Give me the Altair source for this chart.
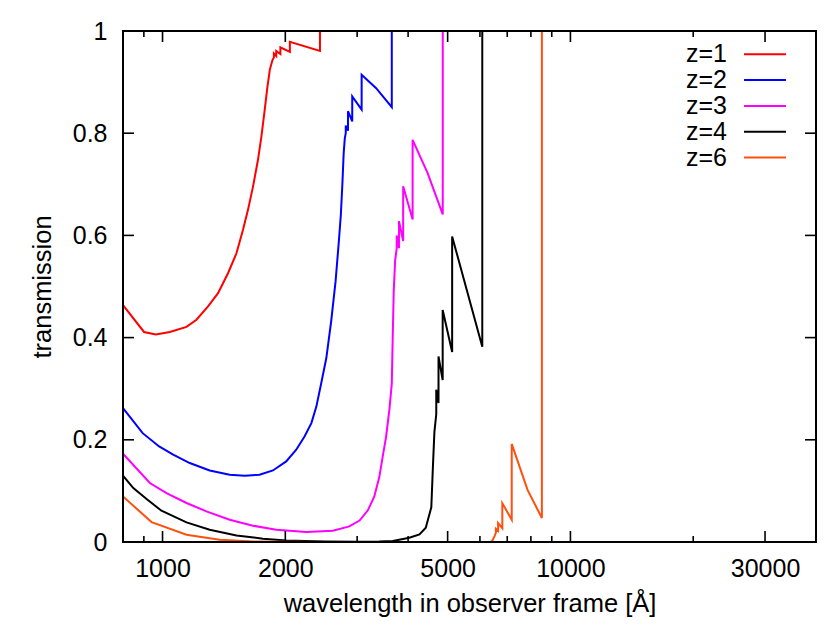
import altair as alt
import pandas as pd

# ---- data (wavelength in Angstrom, transmission) ----
z1_wl = [800, 901, 963, 1042, 1145, 1211, 1293, 1368, 1447, 1518, 1575, 1620, 1666, 1714, 1747, 1780,
         1808, 1824, 1832, 1848, 1860, 1875, 1875, 1900, 1900, 1945, 1945, 2052, 2052, 2432, 2432, 40000]
z1_t = [0.4635, 0.411, 0.406, 0.411, 0.421, 0.435, 0.461, 0.487, 0.526, 0.565, 0.611, 0.650, 0.695, 0.748,
        0.793, 0.845, 0.891, 0.912, 0.924, 0.935, 0.943, 0.948, 0.956, 0.951, 0.961, 0.955, 0.968, 0.959,
        0.979, 0.961, 1.0, 1.0]

z2_wl = [800, 894, 981, 1062, 1166, 1305, 1461, 1590, 1729, 1865, 2010, 2127, 2229, 2317, 2383, 2450,
         2521, 2591, 2656, 2706, 2736, 2760, 2780, 2798, 2813, 2813, 2849, 2849, 2918, 2918, 3077, 3077,
         3340, 3648, 3648, 40000]
z2_t = [0.262, 0.213, 0.187, 0.171, 0.1545, 0.140, 0.1316, 0.1297, 0.1316, 0.140, 0.1577, 0.1805, 0.2066,
        0.2327, 0.265, 0.311, 0.36, 0.432, 0.510, 0.589, 0.64, 0.70, 0.76, 0.79, 0.80, 0.815, 0.805, 0.843,
        0.823, 0.872, 0.846, 0.9145, 0.888, 0.851, 1.0, 1.0]

z3_wl = [800, 931, 1023, 1145, 1281, 1461, 1666, 1900, 2251, 2615, 2870, 3041, 3187, 3305, 3400, 3464,
         3531, 3600, 3648, 3667, 3688, 3717, 3751, 3751, 3799, 3799, 3890, 3890, 4103, 4103, 4466, 4864,
         4864, 40000]
z3_t = [0.1727, 0.1154, 0.0958, 0.0763, 0.060, 0.0436, 0.0319, 0.024, 0.0196, 0.0221, 0.0305, 0.042, 0.062,
        0.089, 0.127, 0.166, 0.205, 0.26, 0.31, 0.40, 0.49, 0.55, 0.575, 0.60, 0.575, 0.628, 0.589, 0.696,
        0.631, 0.787, 0.722, 0.641, 1.0, 1.0]

z4_wl = [800, 848, 914, 994, 1145, 1305, 1518, 1763, 2010, 2500, 3000, 3400, 3667, 4028, 4265, 4420,
         4560, 4600, 4640, 4689, 4689, 4749, 4749, 4862, 4862, 5129, 5129, 6080, 6080, 40000]
z4_t = [0.1297, 0.1056, 0.084, 0.0612, 0.0383, 0.024, 0.0129, 0.0065, 0.003, 0.001, 0.0005, 0.001, 0.002,
        0.0084, 0.015, 0.028, 0.068, 0.145, 0.215, 0.25, 0.298, 0.272, 0.363, 0.317, 0.454, 0.372, 0.598,
        0.382, 1.0, 1.0]

z6_wl = [800, 940, 1145, 1381, 1666, 2500, 6384, 6450, 6520, 6565, 6565, 6648, 6648, 6808, 6808, 7180,
         7180, 7850, 8512, 8512, 40000]
z6_t = [0.089, 0.039, 0.0143, 0.0045, 0.001, 0.0, 0.0, 0.004, 0.012, 0.018, 0.026, 0.022, 0.037, 0.027,
        0.076, 0.0436, 0.192, 0.102, 0.047, 1.0, 1.0]

series_names = ["z=1", "z=2", "z=3", "z=4", "z=6"]
series_colors = ["#ff0000", "#0000ff", "#ff00ff", "#000000", "#ff5010"]

x_major = [1000, 2000, 5000, 10000, 30000]
x_minor = [900, 3000, 4000, 6000, 7000, 8000, 9000, 20000]
y_ticks = [0, 0.2, 0.4, 0.6, 0.8, 1]

# ---- build tables ----
rows = []
for name, wl, t in zip(series_names, [z1_wl, z2_wl, z3_wl, z4_wl, z6_wl], [z1_t, z2_t, z3_t, z4_t, z6_t]):
    for i, (w, v) in enumerate(zip(wl, t)):
        rows.append({"wl": w, "t": v, "z": name, "idx": i})
df = pd.DataFrame(rows)
leg_df = pd.DataFrame({"z": series_names, "row": list(range(len(series_names)))})

W, H = 693, 511
FONT = "Liberation Sans"
FS = 25

xscale = alt.Scale(type="log", domain=[800, 40000], nice=False)
yscale = alt.Scale(domain=[0, 1], nice=False, zero=False)
cscale = alt.Scale(domain=series_names, range=series_colors)

lines = alt.Chart(df).mark_line(strokeWidth=2, clip=True).encode(
    x=alt.X("wl:Q", scale=xscale, axis=alt.Axis(
        values=x_major, format="d", domain=False, ticks=False, grid=False,
        labelFontSize=FS, labelFont=FONT, labelColor="black", labelPadding=34,
        labelBaseline="alphabetic", labelFlush=False, labelOverlap=False,
        title="wavelength in observer frame [Å]", titleFontSize=25.5, titleFont=FONT,
        titleFontWeight="normal", titleColor="black", titleX=W / 2, titleY=69,
        titleBaseline="alphabetic", titleAlign="center")),
    y=alt.Y("t:Q", scale=yscale, axis=alt.Axis(
        values=y_ticks, format="~g", domain=False, ticks=False, grid=False,
        labelFontSize=FS, labelFont=FONT, labelColor="black", labelPadding=16,
        labelFlush=False, labelOverlap=False,
        title="transmission", titleFontSize=25.5, titleFont=FONT, titleFontWeight="normal",
        titleColor="black", titleX=-73, titleY=H / 2, titleAngle=270,
        titleBaseline="alphabetic", titleAlign="center")),
    color=alt.Color("z:N", scale=cscale, legend=None),
    order="idx:Q",
)

xmaj_df = pd.DataFrame({"wl": x_major})
xmin_df = pd.DataFrame({"wl": x_minor})
yt_df = pd.DataFrame({"t": y_ticks})

def xtick(data, y0, y1):
    return alt.Chart(data).mark_rule(color="black", strokeWidth=1.6).encode(
        x=alt.X("wl:Q", scale=xscale, axis=None), y=alt.value(y0), y2=alt.value(y1))

def ytick(x0, x1):
    return alt.Chart(yt_df).mark_rule(color="black", strokeWidth=1.6).encode(
        y=alt.Y("t:Q", scale=yscale, axis=None), x=alt.value(x0), x2=alt.value(x1))

ticks = [
    xtick(xmaj_df, H, H - 11), xtick(xmaj_df, 0, 11),
    xtick(xmin_df, H, H - 6), xtick(xmin_df, 0, 6),
    ytick(0, 11), ytick(W, W - 11),
]

# legend (gnuplot style: label on the left, line sample on the right)
leg_y = alt.Y("row:Q", scale=alt.Scale(domain=[0, 4], range=[23.3, 126.5]), axis=None)
leg_text = alt.Chart(leg_df).mark_text(align="right", baseline="middle", fontSize=FS,
                                       font=FONT, color="black").encode(
    x=alt.value(604), y=leg_y, text="z:N")
leg_line = alt.Chart(leg_df).mark_rule(strokeWidth=2).encode(
    x=alt.value(621), x2=alt.value(663), y=leg_y,
    color=alt.Color("z:N", scale=cscale, legend=None))

frame = alt.Chart(pd.DataFrame({"a": [0]})).mark_rect(
    filled=False, stroke="black", strokeWidth=2).encode(
    x=alt.value(0), x2=alt.value(W), y=alt.value(0), y2=alt.value(H))

chart = alt.layer(lines, *ticks, leg_text, leg_line, frame).resolve_scale(
    y="independent").resolve_axis(x="independent", y="independent").properties(
    width=W, height=H,
    autosize=alt.AutoSizeParams(type="none"),
    padding={"left": 115, "top": 23, "right": 6, "bottom": 75},
).configure_view(stroke=None).configure(font=FONT, background="white")

chart.save("out.html", embed_options={"renderer": "svg", "actions": False})
